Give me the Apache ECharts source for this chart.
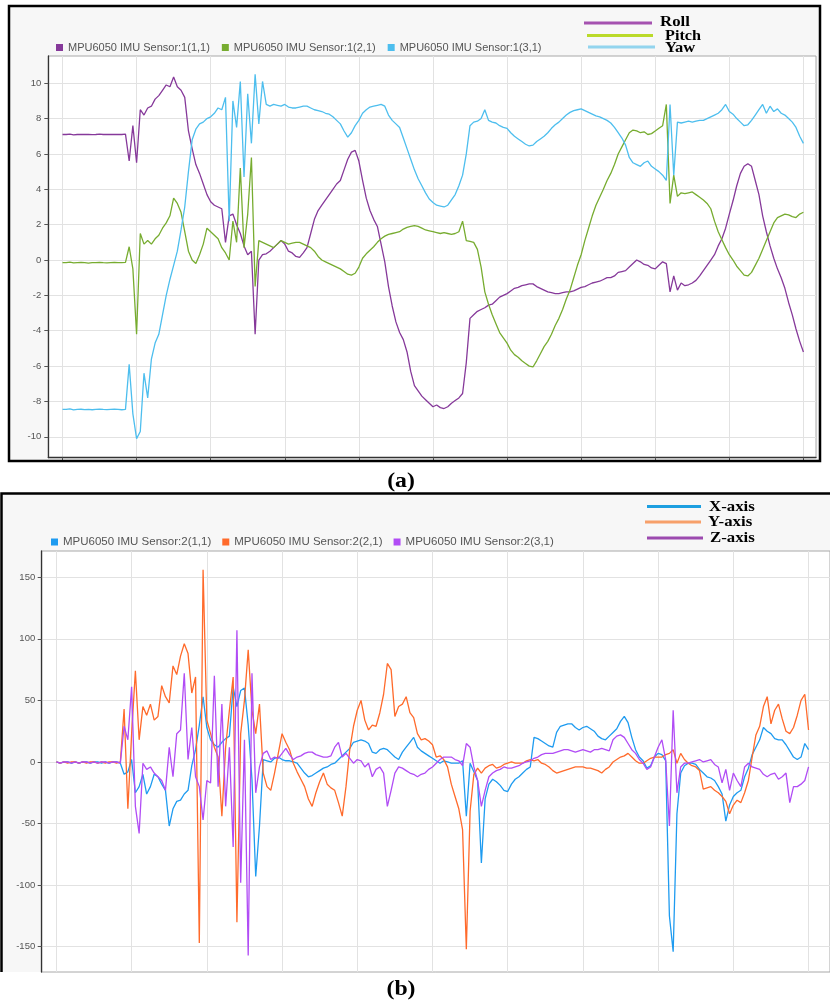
<!DOCTYPE html>
<html>
<head>
<meta charset="utf-8">
<script src="https://cdn.jsdelivr.net/npm/echarts@6/dist/echarts.min.js"></script>
<style>html,body{margin:0;padding:0;background:#fff}#c{width:830px;height:1002px}</style>
</head>
<body>
<div id="c"></div>
<script>
// ---------- Panel (a): MPU6050 IMU Sensor 1 (Roll / Pitch / Yaw) ----------
const namesA = ['MPU6050 IMU Sensor:1(1,1)', 'MPU6050 IMU Sensor:1(2,1)', 'MPU6050 IMU Sensor:1(3,1)'];
const overlayA = ['Roll', 'Pitch', 'Yaw'];
const yTicksA = [-10, -8, -6, -4, -2, 0, 2, 4, 6, 8, 10];
const xTicks = [0, 20, 40, 60, 80, 100, 120, 140, 160, 180, 200];

const rollA = [
7.1,7.1,7.12,7.08,7.1,7.1,7.11,7.1,7.09,7.1,7.12,7.1,7.1,7.1,7.11,7.1,7.1,7.12,
5.6,7.6,5.5,8.5,8.2,8.6,8.7,9.1,9.3,9.6,9.9,9.8,
10.35,9.8,9.6,9.2,7.3,6.3,5.4,4.9,4.3,3.7,
3.3,3.1,3.0,2.9,1.0,2.5,2.6,2.0,1.5,0.8,
0.3,0.5,-4.2,0.0,0.3,0.35,0.5,0.7,0.9,1.1,
0.9,0.5,0.4,0.2,0.15,0.4,0.7,1.5,2.3,2.8,
3.1,3.4,3.7,4.0,4.3,4.5,5.1,5.7,6.1,6.2,
5.6,4.5,3.5,2.8,2.3,1.9,0.9,-0.1,-1.5,-2.6,
-3.5,-4.1,-4.5,-5.2,-6.3,-7.1,-7.4,-7.7,-7.9,-8.1,
-8.3,-8.2,-8.35,-8.4,-8.3,-8.1,-7.95,-7.8,-7.55,-5.8,
-3.3,-3.1,-2.9,-2.8,-2.7,-2.55,-2.5,-2.3,-2.1,-2.0,
-1.9,-1.75,-1.6,-1.55,-1.45,-1.4,-1.35,-1.35,-1.5,-1.6,
-1.7,-1.8,-1.85,-1.9,-1.9,-1.85,-1.8,-1.8,-1.75,-1.65,
-1.55,-1.5,-1.4,-1.3,-1.25,-1.2,-1.1,-1.0,-1.0,-0.9,
-0.7,-0.65,-0.6,-0.4,-0.2,0.0,-0.1,-0.25,-0.3,-0.45,
-0.5,-0.3,-0.1,-0.2,-1.8,-0.9,-1.7,-1.3,-1.45,-1.4,
-1.3,-1.15,-0.9,-0.6,-0.3,0.0,0.3,0.8,1.2,1.8,
2.6,3.35,4.2,4.9,5.3,5.45,5.3,4.5,3.7,2.5,
1.6,0.8,0.1,-0.5,-1.0,-1.6,-2.4,-3.1,-3.9,-4.6,-5.2];

const pitchA = [
-0.15,-0.15,-0.12,-0.16,-0.15,-0.14,-0.15,-0.17,-0.15,-0.15,-0.13,-0.15,-0.16,-0.15,-0.14,-0.15,-0.15,-0.13,
0.75,-0.5,-4.2,1.5,0.9,1.1,0.9,1.2,1.4,1.8,2.1,2.5,
3.5,3.2,2.7,1.6,0.5,0.0,-0.2,0.3,0.9,1.8,
1.6,1.4,1.2,0.7,0.4,0.0,2.2,1.0,5.2,0.7,
2.6,5.8,-1.5,1.1,1.0,0.9,0.8,0.7,0.9,1.1,
1.0,0.9,0.95,1.0,1.0,0.9,0.8,0.7,0.5,0.2,
0.0,-0.1,-0.2,-0.3,-0.4,-0.5,-0.65,-0.8,-0.85,-0.75,
-0.4,0.1,0.35,0.55,0.75,1.0,1.2,1.35,1.45,1.5,
1.55,1.6,1.75,1.85,1.9,1.95,1.9,1.8,1.7,1.65,
1.6,1.55,1.5,1.55,1.5,1.45,1.5,1.6,2.2,1.1,
1.05,1.0,0.6,-0.4,-1.8,-2.5,-3.1,-3.6,-4.1,-4.4,
-4.7,-5.1,-5.35,-5.5,-5.7,-5.85,-6.0,-6.05,-5.7,-5.3,
-4.9,-4.6,-4.2,-3.7,-3.3,-2.8,-2.2,-1.7,-1.0,-0.3,
0.3,1.1,1.8,2.5,3.1,3.55,4.0,4.5,4.9,5.4,
6.0,6.4,6.8,7.2,7.35,7.3,7.2,7.25,7.1,7.15,
7.3,7.45,7.6,8.8,3.2,4.8,3.6,3.8,3.75,3.8,
3.85,3.7,3.55,3.4,3.2,2.9,2.2,1.6,1.15,0.7,
0.3,0.0,-0.35,-0.6,-0.85,-0.9,-0.7,-0.3,0.1,0.6,
1.1,1.6,2.1,2.4,2.5,2.6,2.55,2.45,2.4,2.6,2.7];

const yawA = [
-8.45,-8.45,-8.42,-8.48,-8.45,-8.44,-8.46,-8.45,-8.47,-8.45,-8.43,-8.45,-8.46,-8.45,-8.44,-8.45,-8.47,-8.45,
-5.9,-8.7,-10.1,-9.7,-6.4,-7.8,-5.6,-4.7,-4.2,-3.1,-2.0,-1.1,
-0.3,0.5,1.7,3.0,5.0,6.8,7.4,7.7,7.8,8.0,
8.1,8.3,8.6,8.5,9.2,2.2,9.0,7.5,10.1,4.7,
9.4,6.6,10.5,7.7,10.1,8.8,8.7,8.8,8.75,8.7,
8.8,8.65,8.6,8.6,8.65,8.7,8.7,8.6,8.5,8.45,
8.4,8.3,8.25,8.1,7.9,7.7,7.3,6.95,7.2,7.6,
7.9,8.3,8.5,8.65,8.7,8.75,8.8,8.7,8.2,7.9,
7.7,7.5,6.9,6.3,5.7,5.1,4.6,4.2,3.8,3.45,
3.25,3.1,3.05,3.0,3.1,3.4,3.7,4.2,4.8,6.0,
7.6,7.8,7.85,8.0,8.5,7.9,7.8,7.75,7.6,7.5,
7.45,7.2,7.0,6.85,6.7,6.55,6.45,6.5,6.7,6.85,
7.0,7.2,7.45,7.65,7.8,8.0,8.2,8.35,8.45,8.5,
8.55,8.45,8.35,8.25,8.15,8.1,8.0,7.9,7.75,7.5,
7.2,6.9,6.5,5.8,5.5,5.4,5.3,5.5,5.6,5.3,
5.15,5.0,4.8,4.5,8.8,4.8,7.8,7.75,7.8,7.85,
7.8,7.85,7.9,7.9,8.0,8.1,8.2,8.3,8.5,8.8,
8.4,8.25,8.0,7.8,7.6,7.65,7.9,8.2,8.5,8.8,
8.3,8.7,8.4,8.55,8.3,8.2,8.0,7.8,7.5,7.0,6.6];

// ---------- Panel (b): MPU6050 IMU Sensor 2 (X / Y / Z axis) ----------
const namesB = ['MPU6050 IMU Sensor:2(1,1)', 'MPU6050 IMU Sensor:2(2,1)', 'MPU6050 IMU Sensor:2(3,1)'];
const overlayB = ['X-axis', 'Y-axis', 'Z-axis'];
const yTicksB = [-150, -100, -50, 0, 50, 100, 150];

const xAxisB = [
0,-1,0,0,-1,0,-1,0,0,-1,0,0,-1,0,-1,0,0,-1,
-10,-8,2,-25,-20,-10,-26,-20,-10,-12,-18,-23,
-52,-38,-32,-31,-26,-23,-3,10,30,53,
28,18,14,12,16,19,21,61,45,58,
60,30,-14,-93,-52,2,1,0,3,4,
2,1,1,0,-1,-5,-9,-12,-11,-9,
-7,-5,-4,-2,-1,2,5,8,11,16,
17,18,17,15,8,7,10,11,10,7,
4,2,8,12,16,20,12,9,7,5,
3,1,-1,1,0,-1,-1,-1,1,-44,
-1,-8,-15,-82,-30,-18,-14,-16,-19,-23,
-24,-18,-14,-12,-9,-6,-4,20,19,17,
15,13,12,24,29,30,31,31,28,26,
28,29,27,25,21,19,18,21,24,27,
33,37,32,20,10,4,1,-5,-3,4,
7,6,1,-125,-154,-42,-9,-3,-1,-1,
-2,-6,-9,-12,-13,-15,-20,-26,-48,-35,
-28,-25,-23,-12,-5,6,12,18,28,25,
23,19,18,18,14,9,4,2,4,15,10];

const yAxisB = [
0,-1,0,-1,0,0,-1,0,-1,0,0,-1,0,-1,0,0,-1,0,
43,-38,23,74,18,45,38,47,34,37,62,53,
48,78,71,86,96,88,56,69,-147,156,
34,23,12,4,-44,12,42,69,-130,23,
50,91,42,23,47,-9,-20,-23,-9,7,
23,16,10,-1,-8,-14,-20,-30,-36,-25,
-16,-9,-18,-21,-23,-33,-44,-20,10,29,
42,50,34,26,30,29,40,55,80,75,
37,45,47,53,40,36,23,18,19,17,
14,4,5,2,-4,-18,-28,-38,-55,-152,
-40,-10,-5,-9,-5,-3,-2,-5,-4,-2,
-1,0,-1,-1,-1,1,2,1,2,-1,
-2,-4,-7,-9,-8,-7,-6,-5,-4,-4,
-4,-5,-5,-6,-7,-9,-6,-4,0,2,
4,5,7,4,1,-1,-1,1,3,4,
4,4,6,7,10,-1,7,2,-1,-3,
-4,-7,-22,-21,-20,-23,-25,-28,-32,-42,
-35,-31,-33,-25,-15,4,22,29,45,53,
31,42,47,35,25,23,28,38,50,55,26];

const zAxisB = [
0,-1,0,0,-1,0,-1,0,0,-1,0,-1,0,0,-1,0,0,-1,
29,18,61,-36,-58,-1,-6,-4,-9,-12,-15,-23,
12,-12,23,26,72,2,28,-12,-20,-47,
-15,-17,70,-20,47,-36,12,-69,107,-98,
18,-157,72,-25,-4,7,9,2,4,3,
7,11,6,2,4,5,7,8,8,6,
5,4,4,5,12,16,4,7,3,-1,
2,1,-4,-1,-12,-6,-4,-9,-36,-23,
-9,-4,-5,-7,-9,-10,-12,-10,-9,-6,
-4,-1,2,4,4,4,2,1,-3,15,
12,-4,-15,-36,-23,-12,-9,-7,-6,-4,
-5,-5,-4,-3,-1,0,1,3,4,6,
7,7,7,8,9,10,10,9,8,9,
10,9,8,10,10,11,10,9,18,21,
22,20,15,10,7,2,-1,-6,-4,4,
12,18,2,-52,42,-25,-4,-1,-1,0,
1,2,0,1,2,-2,-4,-17,-6,-23,
-9,-15,-20,-4,-1,-4,-5,-6,-10,-12,
-10,-9,-14,-12,-9,-33,-20,-20,-18,-15,-4];

// ---------- styling ----------
const colorsA = ['#86399a', '#77ac30', '#4dbeee'];
const colorsB = ['#1e9bf0', '#ff6a2b', '#b14cf5'];
const overlayColorsA = ['#a552b0', '#bada2a', '#92d4ee'];
const overlayColorsB = ['#1d9fe0', '#f7a06a', '#9c4aaf'];
const sans = 'Liberation Sans, Arial, sans-serif';
const serif = 'Liberation Serif, Times New Roman, serif';

const toPairs = arr => arr.map((v, i) => [i, v]);

function lineSeries(name, arr, color, idx) {
  return {
    name, type: 'line', data: toPairs(arr), xAxisIndex: idx, yAxisIndex: idx,
    showSymbol: false, symbol: 'none', animation: false,
    lineStyle: { color, width: 1.3 }, itemStyle: { color }
  };
}

const chart = echarts.init(document.getElementById('c'), null, { renderer: 'canvas' });

const gridLine = { show: true, lineStyle: { color: '#e2e2e2', width: 1 } };

chart.setOption({
  backgroundColor: '#ffffff',
  animation: false,
  grid: [
    { left: 48.3, top: 56, right: 14, bottom: 544.5, show: true, backgroundColor: '#ffffff', borderColor: '#a8a8a8', borderWidth: 1 },
    { left: 41.7, top: 551, right: -15, bottom: 30, show: true, backgroundColor: '#ffffff', borderColor: '#a8a8a8', borderWidth: 1 }
  ],
  legend: [
    { data: namesA, left: 51, top: 37, itemWidth: 7, itemHeight: 7, itemGap: 12, icon: 'rect',
      textStyle: { fontFamily: sans, fontSize: 11, color: '#555' } },
    { data: namesB, left: 46, top: 531, itemWidth: 7, itemHeight: 7, itemGap: 11, icon: 'rect',
      textStyle: { fontFamily: sans, fontSize: 11.5, color: '#555' } }
  ],
  xAxis: [
    { type: 'value', gridIndex: 0, min: -3.83, max: 203.4,
      axisLine: { show: true, onZero: false, lineStyle: { color: '#333', width: 1.3 } },
      axisTick: { show: true, length: 4, customValues: xTicks, lineStyle: { color: '#555' } },
      axisLabel: { show: false },
      splitLine: gridLine },
    { type: 'value', gridIndex: 1, min: -3.91, max: 205.7,
      axisLine: { show: false, onZero: false },
      axisTick: { show: false, customValues: xTicks },
      axisLabel: { show: false },
      splitLine: gridLine }
  ],
  yAxis: [
    { type: 'value', gridIndex: 0, min: -11.17, max: 11.54,
      axisLine: { show: true, onZero: false, lineStyle: { color: '#333', width: 1.3 } },
      axisTick: { show: true, length: 4, customValues: yTicksA, lineStyle: { color: '#555' } },
      axisLabel: { customValues: yTicksA, margin: 7, fontFamily: sans, fontSize: 9.5, color: '#555' },
      splitLine: gridLine },
    { type: 'value', gridIndex: 1, min: -170.5, max: 171.3,
      axisLine: { show: true, onZero: false, lineStyle: { color: '#333', width: 1.3 } },
      axisTick: { show: true, length: 4, customValues: yTicksB, lineStyle: { color: '#555' } },
      axisLabel: { customValues: yTicksB, margin: 6.5, fontFamily: sans, fontSize: 9.5, color: '#555' },
      splitLine: gridLine }
  ],
  series: [
    lineSeries(namesA[0], rollA, colorsA[0], 0),
    lineSeries(namesA[1], pitchA, colorsA[1], 0),
    lineSeries(namesA[2], yawA, colorsA[2], 0),
    lineSeries(namesB[0], xAxisB, colorsB[0], 1),
    lineSeries(namesB[1], yAxisB, colorsB[1], 1),
    lineSeries(namesB[2], zAxisB, colorsB[2], 1)
  ],
  graphic: { elements: [
    // panel backgrounds
    { type: 'rect', z: -100, shape: { x: 9, y: 6, width: 811, height: 455 }, style: { fill: '#f7f7f7' } },
    { type: 'rect', z: -100, shape: { x: 1.5, y: 493.5, width: 840, height: 478.5 }, style: { fill: '#f7f7f7' } },
    // black frames
    { type: 'rect', z: 100, shape: { x: 9, y: 6, width: 811, height: 455 }, style: { fill: null, stroke: '#000', lineWidth: 2.5 } },
    { type: 'polyline', z: 100, shape: { points: [[1.5, 972], [1.5, 493.5], [835, 493.5]] }, style: { fill: null, stroke: '#000', lineWidth: 2.5 } },
    // overlay legend (a)
    { type: 'line', z: 100, shape: { x1: 584, y1: 23, x2: 652, y2: 23 }, style: { stroke: overlayColorsA[0], lineWidth: 3 } },
    { type: 'line', z: 100, shape: { x1: 587, y1: 35.5, x2: 653, y2: 35.5 }, style: { stroke: overlayColorsA[1], lineWidth: 3 } },
    { type: 'line', z: 100, shape: { x1: 588, y1: 47, x2: 655, y2: 47 }, style: { stroke: overlayColorsA[2], lineWidth: 3 } },
    { type: 'text', z: 100, x: 660, y: 22, scaleX: 1.12, style: { text: overlayA[0], font: 'bold 15px ' + serif, fill: '#000', textVerticalAlign: 'middle' } },
    { type: 'text', z: 100, x: 665, y: 36, scaleX: 1.08, style: { text: overlayA[1], font: 'bold 15px ' + serif, fill: '#000', textVerticalAlign: 'middle' } },
    { type: 'text', z: 100, x: 665, y: 48.5, scaleX: 1.1, style: { text: overlayA[2], font: 'bold 15px ' + serif, fill: '#000', textVerticalAlign: 'middle' } },
    // overlay legend (b)
    { type: 'line', z: 100, shape: { x1: 647, y1: 506.5, x2: 701, y2: 506.5 }, style: { stroke: overlayColorsB[0], lineWidth: 3 } },
    { type: 'line', z: 100, shape: { x1: 645, y1: 522, x2: 701, y2: 522 }, style: { stroke: overlayColorsB[1], lineWidth: 3 } },
    { type: 'line', z: 100, shape: { x1: 647, y1: 538, x2: 703, y2: 538 }, style: { stroke: overlayColorsB[2], lineWidth: 3 } },
    { type: 'text', z: 100, x: 709, y: 507, scaleX: 1.12, style: { text: overlayB[0], font: 'bold 15px ' + serif, fill: '#000', textVerticalAlign: 'middle' } },
    { type: 'text', z: 100, x: 708, y: 522, scaleX: 1.12, style: { text: overlayB[1], font: 'bold 15px ' + serif, fill: '#000', textVerticalAlign: 'middle' } },
    { type: 'text', z: 100, x: 710, y: 538, scaleX: 1.12, style: { text: overlayB[2], font: 'bold 15px ' + serif, fill: '#000', textVerticalAlign: 'middle' } },
    // panel captions
    { type: 'text', z: 100, x: 401, y: 481, scaleX: 1.08, style: { text: '(a)', font: 'bold 22px ' + serif, fill: '#000', textAlign: 'center', textVerticalAlign: 'middle' } },
    { type: 'text', z: 100, x: 401, y: 989, scaleX: 1.08, style: { text: '(b)', font: 'bold 22px ' + serif, fill: '#000', textAlign: 'center', textVerticalAlign: 'middle' } }
  ] }
});
</script>
</body>
</html>
